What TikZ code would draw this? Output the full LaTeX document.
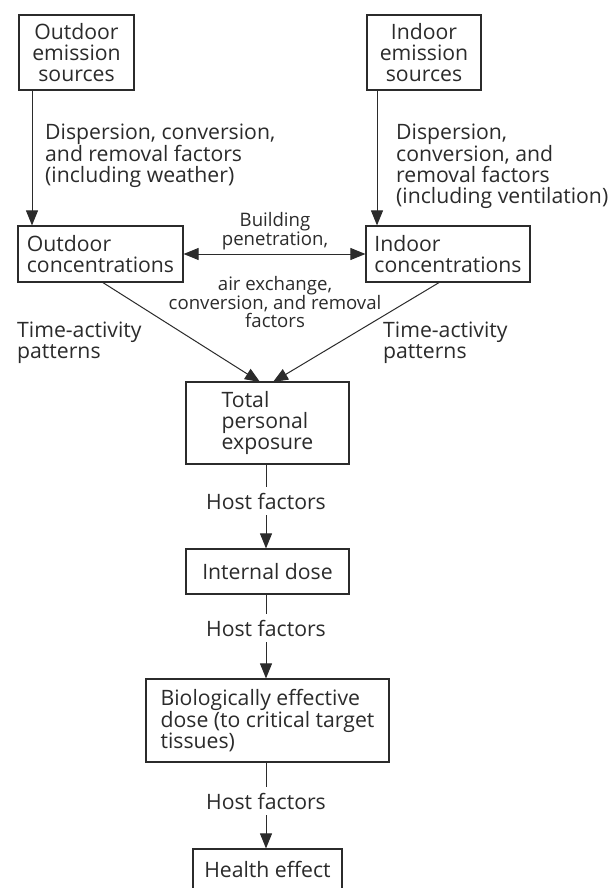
\documentclass[tikz,border=0pt]{standalone}
\usepackage{fontspec}
\setmainfont{Open Sans}
\usetikzlibrary{arrows.meta,calc}
\definecolor{ink}{HTML}{2B2B2B}
\begin{document}
\begin{tikzpicture}[x=1pt,y=-1pt,
  box/.style={draw=ink,line width=1.2pt,inner sep=0pt,text=ink,
    font=\fontsize{21.2}{21}\selectfont},
  lab/.style={inner sep=0pt,text=ink,font=\fontsize{21.2}{21}\selectfont},
  slab/.style={inner sep=0pt,text=ink,font=\fontsize{18.6}{18}\selectfont},
  host/.style={inner xsep=0pt,inner ysep=6pt,text=ink,font=\fontsize{21.2}{21}\selectfont},
  conn/.style={draw=ink,line width=1pt},
  arr/.style={conn,-{Triangle[length=15pt,width=12pt]}},
  darr/.style={conn,{Triangle[length=15pt,width=12pt]}-{Triangle[length=15pt,width=12pt]}}
]
\clip (0,0) rectangle (610,888);
\fill[white] (0,0) rectangle (610,888);

% boxes
\node[box,minimum width=115pt,minimum height=75pt,align=center] (oes) at (76.5,52.5) {Outdoor\\emission\\sources};
\node[box,minimum width=114pt,minimum height=75pt,align=center] (ies) at (424,52.5) {Indoor\\emission\\sources};
\node[box,minimum width=165pt,minimum height=56pt,align=left] (oc) at (100.5,254) {Outdoor\\concentrations};
\node[box,minimum width=164pt,minimum height=56pt,align=left] (ic) at (448,254) {Indoor\\concentrations};
\node[box,minimum width=163pt,minimum height=82pt,align=left] (tot) at (267.5,423) {Total\\personal\\exposure};
\node[box,minimum width=163pt,minimum height=45pt,align=center] (int) at (267.5,571.5) {Internal dose};
\node[box,minimum width=243pt,minimum height=83pt,align=left] (bio) at (267.5,720.5) {Biologically effective\\dose (to critical target\\tissues)};
\node[box,minimum width=149pt,minimum height=40pt,align=center] (he) at (267.5,869) {Health effect};

% labels
\node[lab,anchor=west,align=left] (disp1) at (45,156) {Dispersion, conversion,\\and removal factors\\(including weather)};
\node[lab,anchor=west,align=left] (disp2) at (396,166) {Dispersion,\\conversion, and\\removal factors\\(including ventilation)};
\node[slab,align=center] (bp) at (275,231) {Building\\penetration,};
\node[slab,align=center] (ax) at (275,302) {air exchange,\\conversion, and removal\\factors};
\node[lab,anchor=west,align=left] (ta1) at (17,343) {Time-activity\\patterns};
\node[lab,anchor=west,align=left] (ta2) at (383,343) {Time-activity\\patterns};
\node[host] (h1) at (266,501) {Host factors};
\node[host] (h2) at (266,628) {Host factors};
\node[host] (h3) at (266,801) {Host factors};

% connector end points
\coordinate (o1) at (32,90);
\coordinate (i1) at (377,90);
\coordinate (od) at (102,282);
\coordinate (id) at (440,282);
\coordinate (t1) at (260,382);
\coordinate (t2) at (273,382);

% connectors
\draw[arr] (o1) -- (o1 |- oc.north);
\draw[arr] (i1) -- (i1 |- ic.north);
\draw[darr] (oc.east) -- (ic.west);
\draw[arr] (od) -- (t1);
\draw[arr] (id) -- (t2);
\draw[conn] (h1.north |- tot.south) -- (h1.north);
\draw[arr] (h1.south) -- (h1.south |- int.north);
\draw[conn] (h2.north |- int.south) -- (h2.north);
\draw[arr] (h2.south) -- (h2.south |- bio.north);
\draw[conn] (h3.north |- bio.south) -- (h3.north);
\draw[arr] (h3.south) -- (h3.south |- he.north);
\end{tikzpicture}
\end{document}
